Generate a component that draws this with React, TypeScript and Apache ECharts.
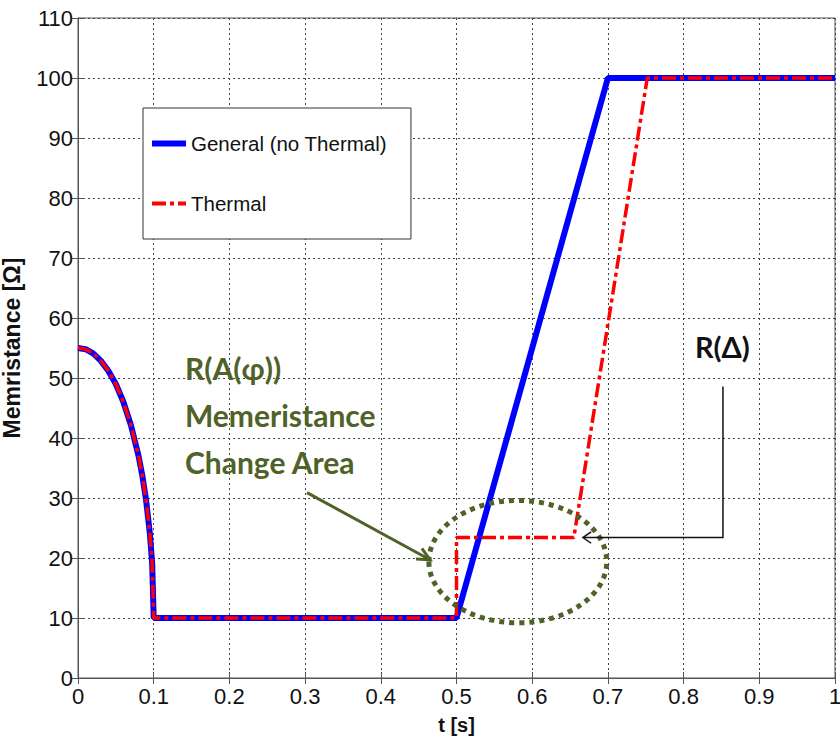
import React, { useEffect, useRef } from "react";
import * as echarts from "echarts";

// time (s) and memristance (Ω)
const decayT = [0, 0.01, 0.02, 0.03, 0.04, 0.05, 0.06, 0.07, 0.08, 0.085, 0.09, 0.095, 0.098, 0.1];
const decayR = [55, 54.8, 54.1, 52.9, 51.2, 49, 46, 42.1, 37, 33.7, 29.6, 24, 19, 10];

const generalT = [0.5, 0.7, 1.0];
const generalR = [10, 100, 100];

const thermalT = [0.5, 0.5, 0.655, 0.752, 1.0];
const thermalR = [10, 23.4, 23.4, 100, 100];

const xTicks = [0, 0.1, 0.2, 0.3, 0.4, 0.5, 0.6, 0.7, 0.8, 0.9, 1];
const yTicks = [0, 10, 20, 30, 40, 50, 60, 70, 80, 90, 100, 110];

const seriesNames = ["General (no Thermal)", "Thermal"];

const zip = (a: number[], b: number[]) => a.map((v, i) => [v, b[i]]);

export default function App() {
  const ref = useRef<HTMLDivElement>(null);
  useEffect(() => {
    if (!ref.current) return;
    const chart = echarts.init(ref.current, undefined, { renderer: "svg" });
    const generalData = zip(decayT, decayR).concat(zip(generalT, generalR));
    const thermalData = zip(decayT, decayR).concat(zip(thermalT, thermalR));
    const labelFont = "'Liberation Sans', Arial, sans-serif";
    const gridLine = { show: true, lineStyle: { color: "#444", width: 1, type: [2, 3] as any } };
    const redDash = [14, 4, 4, 4];
    chart.setOption({
      animation: false,
      backgroundColor: "#fff",
      grid: {
        left: 78,
        right: 5,
        top: 18,
        bottom: 60,
        show: true,
        borderColor: "#555",
        borderWidth: 1,
        outerBoundsMode: "none",
        containLabel: false,
      },
      legend: {
        data: [
          { name: seriesNames[0], lineStyle: { color: "#0000ff", width: 6 } },
          { name: seriesNames[1], lineStyle: { color: "#ff0000", width: 4, type: redDash } },
        ],
        orient: "vertical",
        left: 143,
        top: 108,
        padding: [25, 24, 25, 6],
        itemGap: 39,
        itemWidth: 34,
        itemHeight: 20,
        itemStyle: { opacity: 0 },
        borderColor: "#333",
        borderWidth: 1,
        backgroundColor: "#fff",
        textStyle: { fontSize: 20.5, color: "#111", fontFamily: labelFont },
      },
      xAxis: [
        {
          type: "value",
          min: 0,
          max: 1,
          interval: 0.1,
          name: "t [s]",
          nameLocation: "middle",
          nameGap: 37,
          nameTextStyle: { fontSize: 20, fontWeight: "bold", color: "#111", fontFamily: labelFont },
          axisLine: { show: true, lineStyle: { color: "#555" } },
          axisTick: { show: true, inside: true, length: 6, lineStyle: { color: "#555" } },
          axisLabel: {
            fontSize: 22,
            color: "#111",
            margin: 7,
            fontFamily: labelFont,
            formatter: (v: number) => {
              const t = xTicks.find((x) => Math.abs(x - v) < 1e-6);
              return t === undefined ? "" : String(t);
            },
          },
          splitLine: gridLine,
        },
        {
          type: "value",
          position: "top",
          min: 0,
          max: 1,
          interval: 0.1,
          axisLine: { show: true, lineStyle: { color: "#555" } },
          axisTick: { show: true, inside: true, length: 6, lineStyle: { color: "#555" } },
          axisLabel: { show: false },
          splitLine: { show: false },
        },
      ],
      yAxis: [
        {
          type: "value",
          min: 0,
          max: 110,
          interval: 10,
          name: "Memristance [Ω]",
          nameLocation: "middle",
          nameGap: 55,
          nameMoveOverlap: false,
          nameTextStyle: { fontSize: 23, fontWeight: "bold", color: "#111", fontFamily: labelFont },
          axisLine: { show: true, lineStyle: { color: "#555" } },
          axisTick: { show: true, inside: true, length: 6, lineStyle: { color: "#555" } },
          axisLabel: {
            fontSize: 22,
            color: "#111",
            margin: 5,
            fontFamily: labelFont,
            formatter: (v: number) => {
              const t = yTicks.find((x) => Math.abs(x - v) < 1e-6);
              return t === undefined ? "" : String(t);
            },
          },
          splitLine: gridLine,
        },
        {
          type: "value",
          position: "right",
          min: 0,
          max: 110,
          interval: 10,
          axisLine: { show: true, lineStyle: { color: "#555" } },
          axisTick: { show: true, inside: true, length: 6, lineStyle: { color: "#555" } },
          axisLabel: { show: false },
          splitLine: { show: false },
        },
      ],
      series: [
        {
          name: seriesNames[0],
          type: "line",
          data: generalData,
          showSymbol: false,
          symbol: "none",
          color: "#0000ff",
          lineStyle: { color: "#0000ff", width: 6 },
          z: 2,
        },
        {
          name: seriesNames[1],
          type: "line",
          data: thermalData,
          showSymbol: false,
          symbol: "none",
          color: "#ff0000",
          lineStyle: { color: "#ff0000", width: 3.5, type: redDash as any },
          z: 3,
        },
      ],
    });

    const p = (x: number, y: number) => chart.convertToPixel({ xAxisIndex: 0, yAxisIndex: 0 }, [x, y]) as number[];
    const green = "#4f6228";
    const c = p(0.581, 19.4);
    const ex = p(0.581 + 0.1175, 19.4);
    const ey = p(0.581, 19.4 + 10.2);
    const gA = p(0.3025, 30.9);
    const gB = p(0.465, 19.7);
    const bA = p(0.852, 48.6);
    const bB = p(0.852, 23.4);
    const bC = p(0.667, 23.4);
    const ang = Math.atan2(gB[1] - gA[1], gB[0] - gA[0]);
    const head = (tip: number[], a: number, len: number, spread: number) => [
      [tip[0] - len * Math.cos(a - spread), tip[1] - len * Math.sin(a - spread)],
      tip,
      [tip[0] - len * Math.cos(a + spread), tip[1] - len * Math.sin(a + spread)],
    ];
    const annFont = "Lato, 'Open Sans', sans-serif";
    const t1 = p(0.1413, 55.6);
    const t2 = p(0.815, 57.6);
    chart.setOption({
      graphic: [
        {
          type: "ellipse",
          shape: { cx: c[0], cy: c[1], rx: Math.abs(ex[0] - c[0]), ry: Math.abs(ey[1] - c[1]) },
          style: { fill: "none", stroke: green, lineWidth: 5, lineDash: [5, 5] },
          z: 10,
        },
        {
          type: "line",
          shape: { x1: gA[0], y1: gA[1], x2: gB[0], y2: gB[1] },
          style: { stroke: green, lineWidth: 3 },
          z: 10,
        },
        {
          type: "polyline",
          shape: { points: head(gB, ang, 14, 0.45) },
          style: { stroke: green, lineWidth: 3, fill: "none" },
          z: 10,
        },
        {
          type: "polyline",
          shape: { points: [bA, bB, bC] },
          style: { stroke: "#111", lineWidth: 1.5, fill: "none" },
          z: 10,
        },
        {
          type: "polyline",
          shape: { points: head(bC, Math.PI, 10, 0.6) },
          style: { stroke: "#111", lineWidth: 1.5, fill: "none" },
          z: 10,
        },
        {
          type: "text",
          x: t1[0],
          y: t1[1],
          style: {
            text: "R(A(φ))\nMemeristance\nChange Area",
            fill: green,
            font: `bold 30px ${annFont}`,
            lineHeight: 47,
          },
          z: 10,
        },
        {
          type: "text",
          x: t2[0],
          y: t2[1],
          style: { text: "R(Δ)", fill: "#111", font: `bold 29px ${annFont}` },
          z: 10,
        },
      ],
    });
    return () => chart.dispose();
  }, []);
  return (
    <div
      ref={ref}
      style={{ position: "fixed", left: 0, top: 0, width: 840, height: 738 }}
    />
  );
}
